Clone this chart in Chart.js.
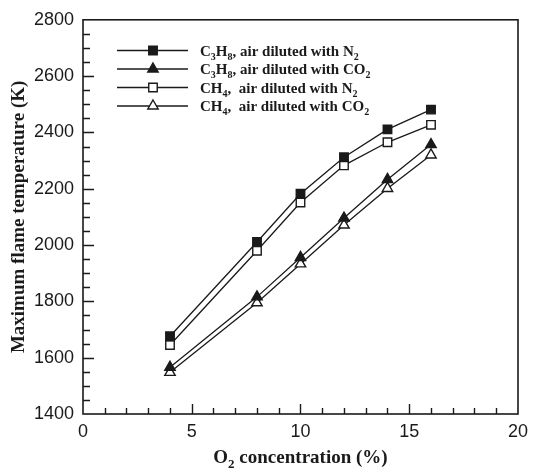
<!DOCTYPE html>
<html>
<head>
<meta charset="utf-8">
<script src="https://cdn.jsdelivr.net/npm/chart.js@4.4.0/dist/chart.umd.min.js"></script>
<style>
  html, body { margin: 0; padding: 0; background: #fff; }
</style>
</head>
<body>
<canvas id="flameChart" width="535" height="475"></canvas>
<script>
// ===== Max flame temperature vs O2 level =====

const o2Levels = [4, 8, 10, 12, 14, 16];
const propaneN2 = [1676, 2011, 2182, 2312, 2411, 2481];
const propaneCO2 = [1566, 1816, 1956, 2096, 2233, 2357];
const methaneN2 = [1645, 1980, 2151, 2283, 2365, 2427];
const methaneCO2 = [1548, 1795, 1933, 2071, 2201, 2320];

// "_x" puts the next character in subscript
const seriesNames = [
  "C_3H_8, air diluted with N_2",
  "C_3H_8, air diluted with CO_2",
  "CH_4,  air diluted with N_2",
  "CH_4,  air diluted with CO_2",
];
const xTitle = "O_2 concentration (%)";
const yTitle = "Maximum flame temperature (K)";

const xTicks = [0, 5, 10, 15, 20];
const yTicks = [1400, 1600, 1800, 2000, 2200, 2400, 2600, 2800];

const INK = "#1a1a1a";
const SERIF = "'Liberation Serif', 'Times New Roman', serif";
const SANS = "'Liberation Sans', Arial, sans-serif";

function pts(ys) {
  return o2Levels.map((x, i) => ({ x, y: ys[i] }));
}

function series(label, ys, style, filled) {
  return {
    label,
    data: pts(ys),
    borderColor: INK,
    borderWidth: 1.3,
    pointStyle: style,
    pointRadius: 6,
    pointHoverRadius: 6,
    pointBorderWidth: 1.4,
    pointBorderColor: INK,
    pointBackgroundColor: filled ? INK : "#fff",
    tension: 0,
  };
}

// split "C_3H_8" into [{t:"C"},{t:"3",sub:true},...]
function parseRich(str) {
  const out = [];
  let buf = "";
  for (let i = 0; i < str.length; i++) {
    if (str[i] === "_" && i + 1 < str.length) {
      if (buf) out.push({ t: buf });
      buf = "";
      out.push({ t: str[i + 1], sub: true });
      i++;
    } else buf += str[i];
  }
  if (buf) out.push({ t: buf });
  return out;
}

function richWidth(ctx, parts, size) {
  let w = 0;
  for (const p of parts) {
    ctx.font = `bold ${p.sub ? Math.round(size * 0.68) : size}px ${SERIF}`;
    w += ctx.measureText(p.t).width;
  }
  return w;
}

function drawRich(ctx, str, x, y, size) {
  const parts = parseRich(str);
  ctx.textBaseline = "alphabetic";
  ctx.textAlign = "left";
  for (const p of parts) {
    const s = p.sub ? Math.round(size * 0.68) : size;
    ctx.font = `bold ${s}px ${SERIF}`;
    ctx.fillText(p.t, x, p.sub ? y + size * 0.28 : y);
    x += ctx.measureText(p.t).width;
  }
}

const decorations = {
  id: "decorations",
  afterDraw(chart) {
    const { ctx, chartArea: a, scales: { x, y } } = chart;
    ctx.save();
    ctx.strokeStyle = INK;
    ctx.fillStyle = INK;

    // frame
    ctx.lineWidth = 1.6;
    ctx.strokeRect(a.left, a.top, a.right - a.left, a.bottom - a.top);

    // inward ticks
    ctx.lineWidth = 1.4;
    ctx.beginPath();
    for (let v = 1; v < 20; v++) {
      const px = Math.round(x.getPixelForValue(v)) + 0.5;
      const len = v % 5 === 0 ? 10 : 6;
      ctx.moveTo(px, a.bottom);
      ctx.lineTo(px, a.bottom - len);
    }
    for (let v = 1450; v < 2800; v += 50) {
      const py = Math.round(y.getPixelForValue(v)) + 0.5;
      const len = v % 200 === 0 ? 11 : 7;
      ctx.moveTo(a.left, py);
      ctx.lineTo(a.left + len, py);
    }
    ctx.stroke();

    // axis titles
    const tSize = 19;
    const xw = richWidth(ctx, parseRich(xTitle), tSize);
    drawRich(ctx, xTitle, (a.left + a.right) / 2 - xw / 2, 463, tSize);

    ctx.save();
    ctx.translate(24, (a.top + a.bottom) / 2);
    ctx.rotate(-Math.PI / 2);
    ctx.font = `bold ${tSize}px ${SERIF}`;
    ctx.textAlign = "center";
    ctx.textBaseline = "alphabetic";
    ctx.fillText(yTitle, 0, 0);
    ctx.restore();

    // legend
    const rowY = [50.5, 69, 87.5, 106];
    chart.data.datasets.forEach((ds, i) => {
      const ly = rowY[i];
      ctx.lineWidth = 1.3;
      ctx.beginPath();
      ctx.moveTo(117, ly);
      ctx.lineTo(188, ly);
      ctx.stroke();
      ctx.lineWidth = ds.pointBorderWidth;
      ctx.fillStyle = ds.pointBackgroundColor;
      Chart.helpers.drawPoint(ctx, { pointStyle: ds.pointStyle, radius: ds.pointRadius, borderWidth: ds.pointBorderWidth, rotation: 0 }, 153, ly);
      ctx.fillStyle = INK;
      drawRich(ctx, seriesNames[i], 200, ly + 5, 15);
    });

    ctx.restore();
  },
};

new Chart(document.getElementById("flameChart"), {
  type: "line",
  data: {
    datasets: [
      series("C3H8 / N2", propaneN2, "rect", true),
      series("C3H8 / CO2", propaneCO2, "triangle", true),
      series("CH4 / N2", methaneN2, "rect", false),
      series("CH4 / CO2", methaneCO2, "triangle", false),
    ],
  },
  options: {
    responsive: false,
    animation: false,
    layout: { padding: { left: 0, right: 12, top: 14, bottom: 0 } },
    plugins: { legend: { display: false }, tooltip: { enabled: false } },
    scales: {
      x: {
        type: "linear",
        min: 0,
        max: 20,
        afterBuildTicks: (s) => { s.ticks = xTicks.map((v) => ({ value: v })); },
        afterFit: (s) => { s.height = 61; },
        grid: { display: false, drawTicks: false },
        border: { display: false },
        ticks: { color: INK, padding: 7, maxRotation: 0, font: { family: SANS, size: 18 }, callback: (v) => String(v) },
      },
      y: {
        min: 1400,
        max: 2800,
        afterBuildTicks: (s) => { s.ticks = yTicks.map((v) => ({ value: v })); },
        afterFit: (s) => { s.width = 83; },
        grid: { display: false, drawTicks: false },
        border: { display: false },
        ticks: { color: INK, padding: 9, font: { family: SANS, size: 18 }, callback: (v) => String(v) },
      },
    },
  },
  plugins: [decorations],
});
</script>
</body>
</html>
